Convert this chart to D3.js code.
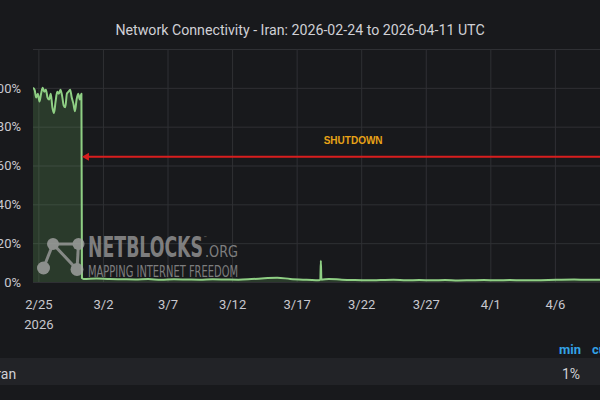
<!DOCTYPE html>
<html>
<head>
<meta charset="utf-8">
<script src="https://cdn.jsdelivr.net/npm/d3@7"></script>
<style>
  html, body { margin: 0; padding: 0; background: #18191c; overflow: hidden; }
  svg { display: block; }
</style>
</head>
<body>
<svg id="chart" width="600" height="400"></svg>
<script>
// ---------------- DATA ----------------
const title = "Network Connectivity - Iran: 2026-02-24 to 2026-04-11 UTC";
const seriesName = "Iran";

// timestamps (UTC) of the connectivity series
const times = [
  "2026-02-24T14:00Z","2026-02-24T17:00Z","2026-02-24T20:00Z","2026-02-24T23:00Z",
  "2026-02-25T02:00Z","2026-02-25T05:00Z","2026-02-25T08:00Z","2026-02-25T11:00Z",
  "2026-02-25T14:00Z","2026-02-25T17:00Z","2026-02-25T20:00Z","2026-02-25T23:00Z",
  "2026-02-26T02:00Z","2026-02-26T05:00Z","2026-02-26T08:00Z","2026-02-26T11:00Z",
  "2026-02-26T14:00Z","2026-02-26T17:00Z","2026-02-26T20:00Z","2026-02-26T23:00Z",
  "2026-02-27T02:00Z","2026-02-27T05:00Z","2026-02-27T08:00Z","2026-02-27T11:00Z",
  "2026-02-27T14:00Z","2026-02-27T17:00Z","2026-02-27T20:00Z","2026-02-27T23:00Z",
  "2026-02-28T02:00Z","2026-02-28T05:00Z","2026-02-28T08:00Z",
  "2026-02-28T09:00Z","2026-02-28T12:00Z",
  "2026-03-01T12:00Z","2026-03-02T12:00Z","2026-03-03T12:00Z","2026-03-04T12:00Z",
  "2026-03-05T12:00Z","2026-03-06T12:00Z","2026-03-07T12:00Z","2026-03-08T12:00Z",
  "2026-03-09T12:00Z","2026-03-10T12:00Z","2026-03-11T12:00Z","2026-03-12T12:00Z",
  "2026-03-13T12:00Z","2026-03-14T12:00Z","2026-03-15T12:00Z","2026-03-16T12:00Z",
  "2026-03-17T12:00Z","2026-03-18T12:00Z","2026-03-18T20:00Z","2026-03-18T21:00Z",
  "2026-03-18T22:00Z","2026-03-19T12:00Z","2026-03-20T12:00Z","2026-03-21T12:00Z",
  "2026-03-22T12:00Z","2026-03-23T12:00Z","2026-03-24T12:00Z","2026-03-25T12:00Z",
  "2026-03-26T12:00Z","2026-03-27T12:00Z","2026-03-28T12:00Z","2026-03-29T12:00Z",
  "2026-03-30T12:00Z","2026-03-31T12:00Z","2026-04-01T12:00Z","2026-04-02T12:00Z",
  "2026-04-03T12:00Z","2026-04-04T12:00Z","2026-04-05T12:00Z","2026-04-06T12:00Z",
  "2026-04-07T12:00Z","2026-04-08T12:00Z","2026-04-09T12:00Z","2026-04-10T12:00Z",
  "2026-04-11T12:00Z"
];
// connectivity (% of normal)
const connectivity = [
  100,99,95,97,
  93,97,100,98,
  99,95,94,97,
  90,87,93,98,
  97,99,96,91,
  90,97,98,99,
  95,92,88,94,
  97,94,97,
  2.0,1.6,
  1.8,1.5,1.4,1.3,
  1.5,1.2,1.4,1.3,
  1.2,1.4,1.3,1.2,
  1.5,1.9,2.2,1.6,
  1.2,0.9,1.0,11,
  1.2,1.6,1.2,1.0,
  0.9,1.0,1.1,0.9,
  1.0,0.9,1.0,0.8,
  0.9,1.0,0.9,1.0,
  0.9,0.9,1.0,1.2,
  1.3,1.1,1.2,1.1,
  1.2
];

const xTickDates = ["2026-02-25","2026-03-02","2026-03-07","2026-03-12","2026-03-17",
                    "2026-03-22","2026-03-27","2026-04-01","2026-04-06","2026-04-11"];
const xTickLabels = ["2/25","3/2","3/7","3/12","3/17","3/22","3/27","4/1","4/6","4/11"];
const yTicks = [0, 20, 40, 60, 80, 100];
const yGrid = [0, 20, 40, 60, 80, 100, 120];

// annotation (in data units)
const annotationText = "SHUTDOWN";
const annotationStart = "2026-02-28T09:00Z";
const annotationEnd = "2026-04-12T00:00Z";
const annotationLevel = 64.5;
const annotationLabelAt = ["2026-03-21T09:00Z", 73];

const legendStat = "min";
const legendNext = "cur";
const legendMin = "1%";

// ---------------- CHART ----------------
const svg = d3.select("#chart");
const W = 600, H = 400;
const plot = { left: 33, top: 49, bottom: 282, right: 627 };

svg.append("rect").attr("width", W).attr("height", H).attr("fill", "#18191c");

const data = times.map((t, i) => ({ t: new Date(t), v: connectivity[i] }));

const x = d3.scaleUtc()
  .domain([new Date("2026-02-24T14:00Z"), new Date("2026-04-11T14:00Z")])
  .range([plot.left, plot.right]);
const y = d3.scaleLinear().domain([0, 120]).range([plot.bottom, plot.top]);

// title
svg.append("text")
  .attr("x", 300).attr("y", 35)
  .attr("text-anchor", "middle")
  .attr("font-family", "Roboto, sans-serif")
  .attr("font-size", 14.2)
  .attr("fill", "#d0d0d6")
  .text(title);

// gridlines
const grid = svg.append("g");
grid.append("g")
  .attr("transform", `translate(${plot.left},0)`)
  .call(d3.axisLeft(y).tickValues(yGrid).tickSize(-(W - plot.left)).tickFormat(""))
  .call(g => g.select(".domain").remove())
  .call(g => g.selectAll("line").attr("stroke", "#2f3034").attr("stroke-width", 1));
grid.append("g")
  .attr("transform", `translate(0,${plot.bottom})`)
  .call(d3.axisBottom(x).tickValues(xTickDates.map(d => new Date(d + "T00:00Z")))
        .tickSize(-(plot.bottom - plot.top)).tickFormat(""))
  .call(g => g.select(".domain").remove())
  .call(g => g.selectAll("line").attr("stroke", "#2f3034").attr("stroke-width", 1));

// y axis labels
svg.append("g")
  .attr("transform", `translate(${plot.left},0)`)
  .call(d3.axisLeft(y).tickValues(yTicks).tickSize(0).tickPadding(12).tickFormat(d => d + "%"))
  .call(g => g.select(".domain").remove())
  .call(g => g.selectAll("text")
    .attr("font-family", "Roboto, sans-serif").attr("font-size", 13).attr("fill", "#c8c8cf"));

// x axis labels
const xa = svg.append("g")
  .attr("transform", `translate(0,${plot.bottom})`)
  .call(d3.axisBottom(x).tickValues(xTickDates.map(d => new Date(d + "T00:00Z")))
        .tickSize(0).tickPadding(18).tickFormat((d, i) => xTickLabels[i]))
  .call(g => g.select(".domain").remove());
xa.selectAll("text")
  .attr("font-family", "Roboto, sans-serif").attr("font-size", 13).attr("fill", "#c8c8cf");
xa.selectAll(".tick").filter((d, i) => i === 0)
  .append("text")
  .attr("y", 38).attr("dy", "0.71em")
  .attr("text-anchor", "middle")
  .attr("font-family", "Roboto, sans-serif").attr("font-size", 13).attr("fill", "#c8c8cf")
  .text("2026");

// clip
svg.append("clipPath").attr("id", "clip")
  .append("rect").attr("x", plot.left).attr("y", plot.top - 2)
  .attr("width", W).attr("height", plot.bottom - plot.top + 4);

const body = svg.append("g").attr("clip-path", "url(#clip)");

// area fill
body.append("path")
  .datum(data)
  .attr("fill", "rgba(115,191,105,0.2)")
  .attr("d", d3.area().curve(d3.curveMonotoneX).x(d => x(d.t)).y0(y(0)).y1(d => y(d.v)));

// watermark
const wm = svg.append("g").attr("opacity", 0.78);
const nodes = [[53, 244, 6], [78.5, 244, 6], [43.5, 268, 6.5], [77, 269.5, 6.5]];
const links = [[0, 1], [0, 2], [0, 3], [1, 3]];
wm.selectAll("line.l").data(links).join("line")
  .attr("x1", d => nodes[d[0]][0]).attr("y1", d => nodes[d[0]][1])
  .attr("x2", d => nodes[d[1]][0]).attr("y2", d => nodes[d[1]][1])
  .attr("stroke", "#a0a0a0").attr("stroke-width", 3);
wm.selectAll("circle").data(nodes).join("circle")
  .attr("cx", d => d[0]).attr("cy", d => d[1]).attr("r", d => d[2])
  .attr("fill", "#a8a8a8");
const brand = wm.append("text")
  .attr("x", 88).attr("y", 257)
  .attr("font-family", "'DejaVu Sans Condensed', 'DejaVu Sans', sans-serif")
  .attr("fill", "#9a9a9a");
brand.append("tspan")
  .attr("font-weight", "bold").attr("font-size", 28)
  .attr("textLength", 115).attr("lengthAdjust", "spacingAndGlyphs")
  .text("NETBLOCKS");
brand.append("tspan")
  .attr("font-size", 4).attr("dy", -18).attr("dx", 0.5)
  .text("™");
brand.append("tspan")
  .attr("x", 205).attr("dy", 18)
  .attr("font-size", 16)
  .attr("textLength", 33).attr("lengthAdjust", "spacingAndGlyphs")
  .text(".ORG");
wm.append("text")
  .attr("x", 88).attr("y", 277)
  .attr("font-family", "'DejaVu Sans Condensed', 'DejaVu Sans', sans-serif")
  .attr("font-size", 15)
  .attr("textLength", 150).attr("lengthAdjust", "spacingAndGlyphs")
  .attr("fill", "#9a9a9a").text("MAPPING INTERNET FREEDOM");

// line
body.append("path")
  .datum(data)
  .attr("fill", "none")
  .attr("stroke", "#8fcf84")
  .attr("stroke-width", 2)
  .attr("stroke-linejoin", "round")
  .attr("d", d3.line().curve(d3.curveMonotoneX).x(d => x(d.t)).y(d => y(d.v)));

// annotation arrow
const ax0 = x(new Date(annotationStart)), ax1 = x(new Date(annotationEnd));
const ay = y(annotationLevel);
svg.append("line")
  .attr("x1", ax0 + 5).attr("x2", ax1).attr("y1", ay).attr("y2", ay)
  .attr("stroke", "#d81e1e").attr("stroke-width", 2);
svg.append("path")
  .attr("d", `M${ax0},${ay} L${ax0 + 7},${ay - 4} L${ax0 + 7},${ay + 4} Z`)
  .attr("fill", "#d81e1e");
svg.append("text")
  .attr("x", x(new Date(annotationLabelAt[0]))).attr("y", y(annotationLabelAt[1]))
  .attr("dy", "0.35em").attr("text-anchor", "middle")
  .attr("font-family", "'Liberation Sans', Arial, sans-serif")
  .attr("font-weight", "bold").attr("font-size", 10)
  .attr("fill", "#e8a317").text(annotationText);

// legend
svg.append("rect").attr("x", 0).attr("y", 358).attr("width", W).attr("height", 27)
  .attr("fill", "#222327");
svg.append("text")
  .attr("x", 581).attr("y", 354).attr("text-anchor", "end")
  .attr("font-family", "Roboto, sans-serif").attr("font-weight", "bold").attr("font-size", 13)
  .attr("fill", "#33a2e5").text(legendStat);
svg.append("text")
  .attr("x", 592).attr("y", 354)
  .attr("font-family", "Roboto, sans-serif").attr("font-weight", "bold").attr("font-size", 13)
  .attr("fill", "#33a2e5").text(legendNext);
svg.append("text")
  .attr("x", -7.5).attr("y", 379)
  .attr("font-family", "Roboto, sans-serif").attr("font-size", 14)
  .attr("fill", "#d0d0d6").text(seriesName);
svg.append("text")
  .attr("x", 580).attr("y", 379).attr("text-anchor", "end")
  .attr("font-family", "Roboto, sans-serif").attr("font-size", 14)
  .attr("fill", "#d0d0d6").text(legendMin);
</script>
</body>
</html>
